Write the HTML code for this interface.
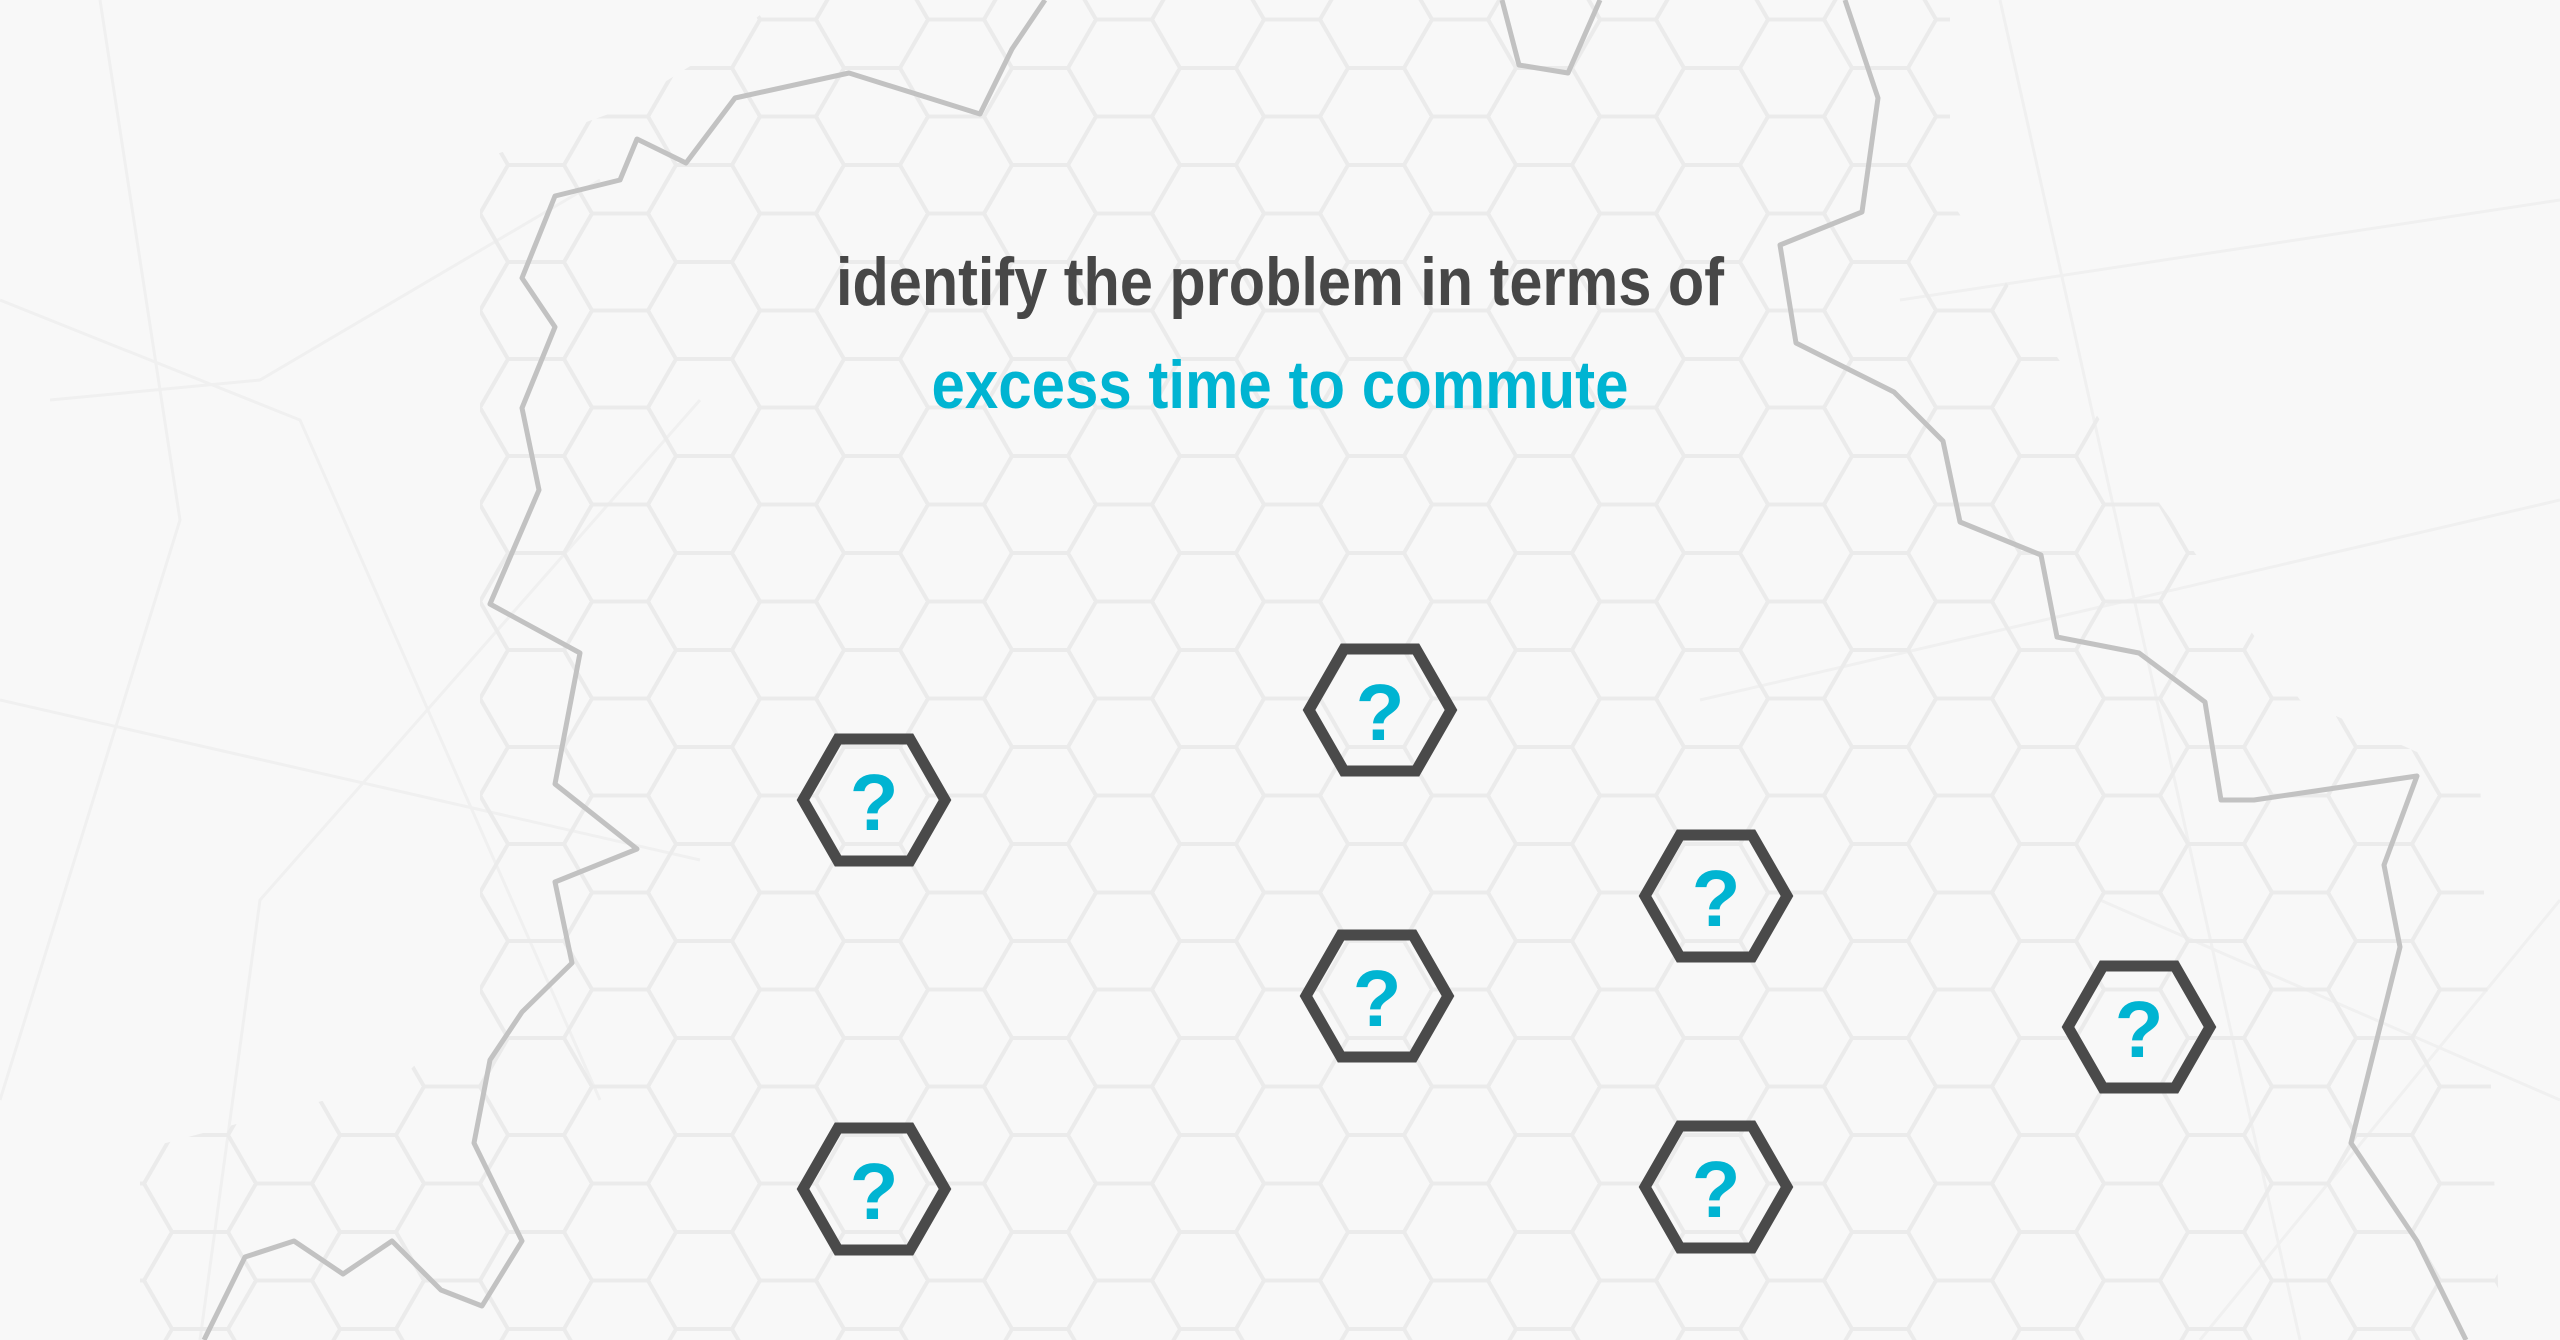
<!DOCTYPE html>
<html><head><meta charset="utf-8"><style>
html,body{margin:0;padding:0;background:#f8f8f8;width:2560px;height:1340px;overflow:hidden;}
svg{display:block}
</style></head><body>
<svg id="s" width="2560" height="1340" viewBox="0 0 2560 1340" xmlns="http://www.w3.org/2000/svg">
<rect width="2560" height="1340" fill="#f8f8f8"/>
<defs>
<clipPath id="cp"><polygon points="480,160 620,110 700,60 780,0 1950,0 1950,200 2100,420 2300,700 2480,780 2500,1340 140,1340 140,1150 400,1080 480,1000"/></clipPath>
</defs>
<g stroke="#f0f0f0" stroke-width="3" fill="none">
<path d="M0,300 L300,420 L600,1100 M100,0 L180,520 L0,1100 M0,700 L700,860 M200,1340 L260,900 L700,400 M1900,300 L2560,200 M2000,0 L2300,1340 M1700,700 L2560,500 M2200,1340 L2560,900 M2100,900 L2560,1100 M50,400 L260,380 L600,180"/>
</g>
<path id="grid" clip-path="url(#cp)" stroke="#ebebeb" stroke-width="4" fill="none" d=""/>
<path stroke="#c2c2c2" stroke-width="5" fill="none" stroke-linejoin="round" d="M204,1340 L245,1257 L294,1241 L343,1274 L392,1241 L441,1290 L482,1306 L522,1241 L474,1143 L490,1060 L522,1012 L572,963 L555,882 L637,849 L555,784 L580,653 L490,604 L539,490 L522,408 L555,327 L522,278 L555,196 L620,180 L637,139 L686,163 L735,98 L849,73 L980,114 L1012,49 L1045,0 M1502,0 L1519,65 L1568,73 L1600,0 M1845,0 L1878,98 L1862,212 L1780,245 L1796,343 L1894,392 L1943,441 L1960,522 L2041,555 L2057,637 L2139,653 L2205,702 L2221,800 L2254,800 L2417,776 L2384,865 L2400,947 L2351,1143 L2417,1241 L2466,1340"/>
<text x="1280" y="305" text-anchor="middle" font-family="Liberation Sans, sans-serif" font-weight="bold" font-size="68" fill="#474747" textLength="888" lengthAdjust="spacingAndGlyphs">identify the problem in terms of</text>
<text x="1280" y="408" text-anchor="middle" font-family="Liberation Sans, sans-serif" font-weight="bold" font-size="68" fill="#00b4d2" textLength="697" lengthAdjust="spacingAndGlyphs">excess time to commute</text>
<g id="hx"></g>
</svg>
<script>
var d="",s=56,h=48.5;
for(var i=-10;i<=22;i++){var cx=788+84*i;var off=(Math.abs(i)%2==1)?h:0;
for(var j=-8;j<=10;j++){var cy=650+97*j+off;
d+="M"+(cx-s)+","+cy+"L"+(cx-s/2)+","+(cy-h)+"L"+(cx+s/2)+","+(cy-h)+"L"+(cx+s)+","+cy+"L"+(cx+s/2)+","+(cy+h)+"L"+(cx-s/2)+","+(cy+h)+"Z";}}
document.getElementById("grid").setAttribute("d",d);
var c=[[874,800],[1380,710],[1716,896],[1377,996],[2139,1027],[874,1189],[1716,1187]],g="";
c.forEach(function(p){var x=p[0],y=p[1];
g+='<path d="M'+(x-71)+','+y+'L'+(x-36)+','+(y-61)+'L'+(x+36)+','+(y-61)+'L'+(x+71)+','+y+'L'+(x+36)+','+(y+61)+'L'+(x-36)+','+(y+61)+'Z" fill="none" stroke="#4a4a4a" stroke-width="11" stroke-linejoin="miter"/>';
g+='<text x="'+x+'" y="'+(y+30)+'" text-anchor="middle" font-family="Liberation Sans, sans-serif" font-weight="bold" font-size="80" fill="#00b4d2">?</text>';});
document.getElementById("hx").innerHTML=g;
</script>
</body></html>
